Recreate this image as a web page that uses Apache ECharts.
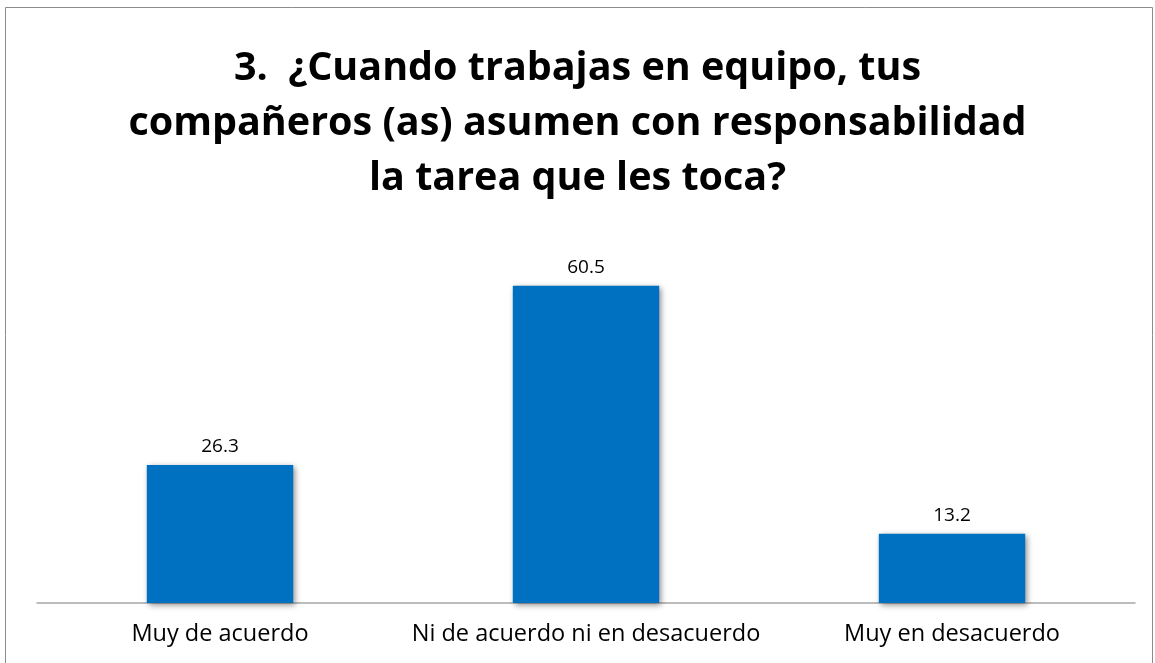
<!DOCTYPE html>
<html>
<head>
<meta charset="utf-8">
<script src="https://cdn.jsdelivr.net/npm/echarts@6/dist/echarts.min.js"></script>
<style>
  html, body { margin: 0; padding: 0; background: #fff; }
  #chart { width: 1155px; height: 663px; }
</style>
</head>
<body>
<div id="chart"></div>
<script>
// datos
const categorias = ['Muy de acuerdo', 'Ni de acuerdo ni en desacuerdo', 'Muy en desacuerdo']
const porcentajes = [26.3, 60.5, 13.2]
const titulo = '3.  ¿Cuando trabajas en equipo, tus\ncompañeros (as) asumen con responsabilidad\nla tarea que les toca?'

const chart = echarts.init(document.getElementById('chart'))
chart.setOption({
  backgroundColor: '#fff',
  animation: false,
  title: {
    text: titulo,
    left: 'center',
    top: 36,
    textStyle: {
      fontFamily: 'Open Sans',
      fontWeight: 'bold',
      fontSize: 39.5,
      lineHeight: 55,
      color: '#000'
    }
  },
  graphic: [{
    type: 'rect',
    shape: { x: 5.5, y: 7.5, width: 1147, height: 700 },
    style: { fill: 'none', stroke: '#8c8c8c', lineWidth: 1 },
    silent: true
  }],
  grid: { left: 37, right: 20, top: 236, bottom: 60 },
  xAxis: {
    type: 'category',
    data: categorias,
    axisLine: { lineStyle: { color: '#a6a6a6', width: 1.5 } },
    axisTick: { show: false },
    axisLabel: {
      interval: 0,
      margin: 19,
      fontFamily: 'Open Sans',
      fontSize: 23.5,
      color: '#000'
    }
  },
  yAxis: {
    type: 'value',
    min: 0,
    max: 70,
    show: false
  },
  series: [{
    type: 'bar',
    data: porcentajes,
    barWidth: '40%',
    itemStyle: {
      color: '#0070c0',
      shadowBlur: 6,
      shadowColor: 'rgba(0,0,0,0.45)',
      shadowOffsetX: 2,
      shadowOffsetY: 2
    },
    label: {
      show: true,
      position: 'top',
      distance: 9,
      fontFamily: 'Open Sans',
      fontSize: 19,
      color: '#000'
    }
  }]
})
</script>
</body>
</html>
